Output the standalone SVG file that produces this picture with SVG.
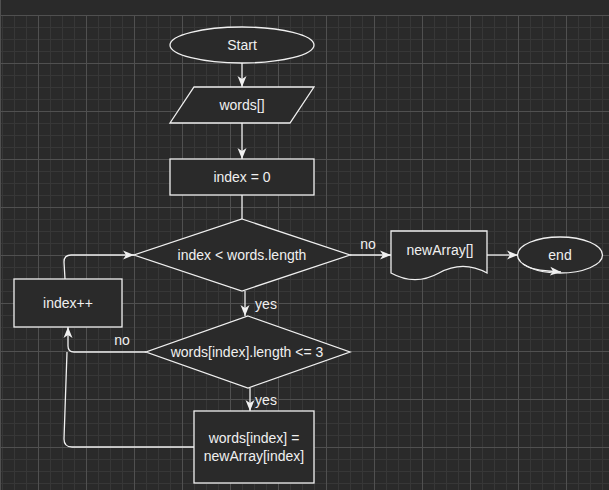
<svg xmlns="http://www.w3.org/2000/svg" width="609" height="490" viewBox="0 0 609 490">
  <defs>
    <pattern id="gridMinor" patternUnits="userSpaceOnUse" x="2" y="15" width="12" height="12">
      <path d="M0.5 0 V12 M0 0.5 H12" stroke="#373737" stroke-width="1" fill="none"/>
    </pattern>
    <pattern id="gridMajor" patternUnits="userSpaceOnUse" x="38" y="15" width="48" height="48">
      <path d="M0.5 0 V48 M0 0.5 H48" stroke="#505050" stroke-width="1" fill="none"/>
    </pattern>
    <marker id="arrow" markerUnits="userSpaceOnUse" markerWidth="12" markerHeight="10" refX="11" refY="5" orient="auto">
      <path d="M0 0.5 L11 5 L0 9.5 L3 5 Z" fill="#f0f0f0"/>
    </marker>
  </defs>
  <style>
    .shape { fill: #2a2a2a; stroke: #f0f0f0; stroke-width: 1.3; }
    .edge { fill: none; stroke: #f0f0f0; stroke-width: 1.3; }
    .arr { marker-end: url(#arrow); }
    text { font-family: "Liberation Sans", Arial, Helvetica, sans-serif; font-size: 14px; fill: #f0f0f0; text-anchor: middle; dominant-baseline: central; }
  </style>

  <!-- canvas and grid -->
  <rect x="0" y="0" width="609" height="490" fill="#2a2a2a"/>
  <rect x="0" y="15" width="609" height="475" fill="url(#gridMinor)"/>
  <rect x="0" y="15" width="609" height="475" fill="url(#gridMajor)"/>
  <line x1="0.5" y1="0" x2="0.5" y2="490" stroke="#505050"/>

  <!-- nodes -->
  <g id="start">
    <ellipse class="shape" cx="242" cy="45" rx="72" ry="18"/>
    <text x="242" y="45">Start</text>
  </g>
  <g id="input-words">
    <polygon class="shape" points="194,87 314,87 290,123 170,123"/>
    <text x="242" y="105">words[]</text>
  </g>
  <g id="init-index">
    <rect class="shape" x="170" y="159" width="144" height="36"/>
    <text x="242" y="177">index = 0</text>
  </g>
  <g id="loop-check">
    <polygon class="shape" points="242,219 350,255 242,291 134,255"/>
    <text x="242" y="255">index &lt; words.length</text>
  </g>
  <g id="length-check">
    <polygon class="shape" points="248,316 350,352 248,388 146,352"/>
    <text x="247" y="352">words[index].length &lt;= 3</text>
  </g>
  <g id="assign">
    <rect class="shape" x="194" y="411" width="120" height="72"/>
    <text x="254" y="438">words[index] =</text>
    <text x="254" y="456">newArray[index]</text>
  </g>
  <g id="increment">
    <rect class="shape" x="14" y="279" width="108" height="48"/>
    <text x="68" y="303">index++</text>
  </g>
  <g id="output-array">
    <path class="shape" d="M391 231 H487 V273 Q463 259.7 439 273 Q415 286.3 391 273 Z"/>
    <text x="440" y="250">newArray[]</text>
  </g>
  <g id="end">
    <ellipse class="shape" cx="560" cy="255" rx="42.5" ry="18"/>
    <text x="560" y="255">end</text>
  </g>

  <!-- connectors -->
  <g id="connectors">
    <path class="edge arr" d="M242 63 V87"/>
    <path class="edge arr" d="M242 123 V159"/>
    <path class="edge" d="M242 195 V219"/>
    <path class="edge arr" d="M245 291 V316"/>
    <path class="edge arr" d="M250 388 V411"/>
    <path class="edge arr" d="M350 255 H391"/>
    <path class="edge arr" d="M487 255 H518"/>
    <path class="edge arr" d="M146 352 H74 Q68 352 68 346 V327"/>
    <path class="edge" d="M194 447 H72 Q64 447 64 439 L67 352"/>
    <path class="edge arr" d="M65 279 L64 262 Q64 255 71 255 H134"/>
    <path class="edge arr" d="M523 264 Q531 270 548 271 L561 272"/>
    <text x="266" y="304">yes</text>
    <text x="266" y="400">yes</text>
    <text x="368" y="244">no</text>
    <text x="122" y="340">no</text>
  </g>
</svg>
